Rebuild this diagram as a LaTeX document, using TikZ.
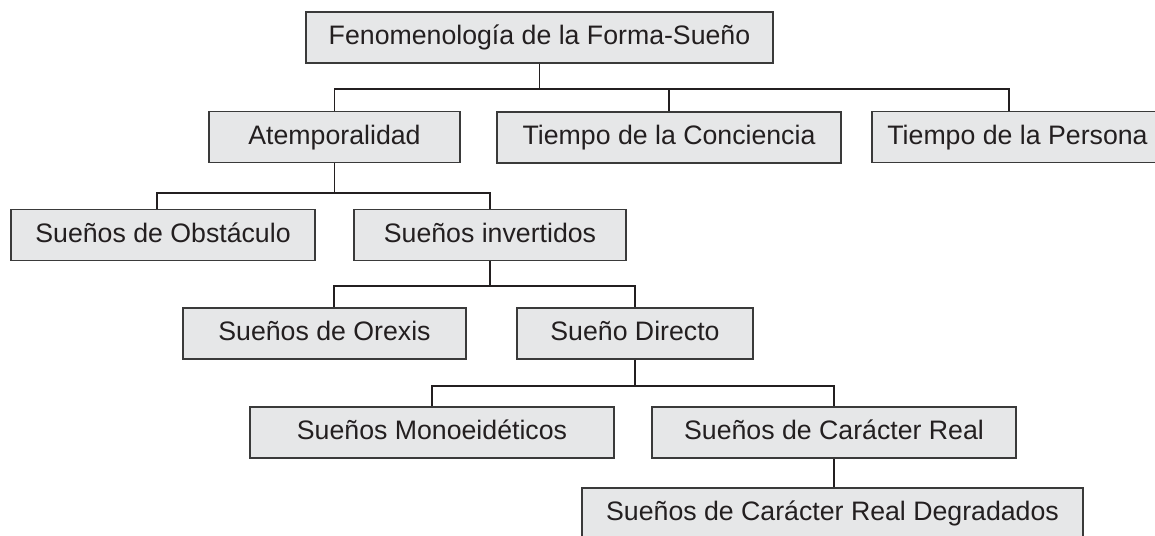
\documentclass[tikz,border=0pt]{standalone}
\usepackage{fontspec}
\setmainfont{Liberation Sans}
\usetikzlibrary{calc}
\definecolor{boxfill}{HTML}{E6E7E8}
\definecolor{ink}{HTML}{231F20}
\definecolor{edge}{HTML}{3A3A3A}
\begin{document}
\begin{tikzpicture}[x=1pt,y=-1pt,
  box/.style={draw=edge,line width=1.4pt,fill=boxfill,inner sep=0pt,
    minimum height=51pt,text=ink,
    font=\fontsize{26.7}{32}\selectfont,text height=19.5pt,text depth=5.5pt},
  thinl/.style={draw=ink,line width=1.2pt},
  thickl/.style={draw=ink,line width=2.6pt}]
\useasboundingbox (0,0) rectangle (1155,535);
\clip (0,0) rectangle (1155,535);
% boxes
\node[box,minimum width=467pt] (top)   at (539.5,37.5) {Fenomenología de la Forma-Sueño};
\node[box,minimum width=251pt] (atemp) at (334.5,137)  {Atemporalidad};
\node[box,minimum width=344pt] (conc)  at (669,137.5)  {Tiempo de la Conciencia};
\node[box,minimum width=291pt] (pers)  at (1017.5,137) {Tiempo de la Persona};
\node[box,minimum width=304pt] (obst)  at (163,235)    {Sueños de Obstáculo};
\node[box,minimum width=272pt] (inv)   at (490,235)    {Sueños invertidos};
\node[box,minimum width=283pt] (orex)  at (324.5,333.5){Sueños de Orexis};
\node[box,minimum width=236pt] (dir)   at (635,333.5)  {Sueño Directo};
\node[box,minimum width=364pt] (mono)  at (432,432.5)  {Sueños Monoeidéticos};
\node[box,minimum width=364pt] (car)   at (834,432.5)  {Sueños de Carácter Real};
\node[box,minimum width=501pt] (deg)   at (832.5,513.5){Sueños de Carácter Real Degradados};
% bus points
\coordinate (b0) at (539.5,89);
\coordinate (b1) at (334.5,193);
\coordinate (b2) at (490,286);
\coordinate (b3) at (635,386);
% level 0
\draw[thinl] (top.south) -- (b0) -| (atemp.north);
\draw[thickl] (b0) -| (conc.north);
\draw[thickl] (b0) -| ([xshift=-8.5pt]pers.north);
% level 1
\draw[thinl] (atemp.south) -- (b1) -| ([xshift=-6pt]obst.north);
\draw[thickl] (b1) -| (inv.north);
% level 2
\draw[thickl] (inv.south) -- (b2) -| ([xshift=9.5pt]orex.north);
\draw[thickl] (b2) -| (dir.north);
% level 3
\draw[thickl] (dir.south) -- (b3) -| (mono.north);
\draw[thickl] (b3) -| (car.north);
% level 4
\draw[thickl] (car.south) -- (car.south |- deg.north);
\end{tikzpicture}
\end{document}
